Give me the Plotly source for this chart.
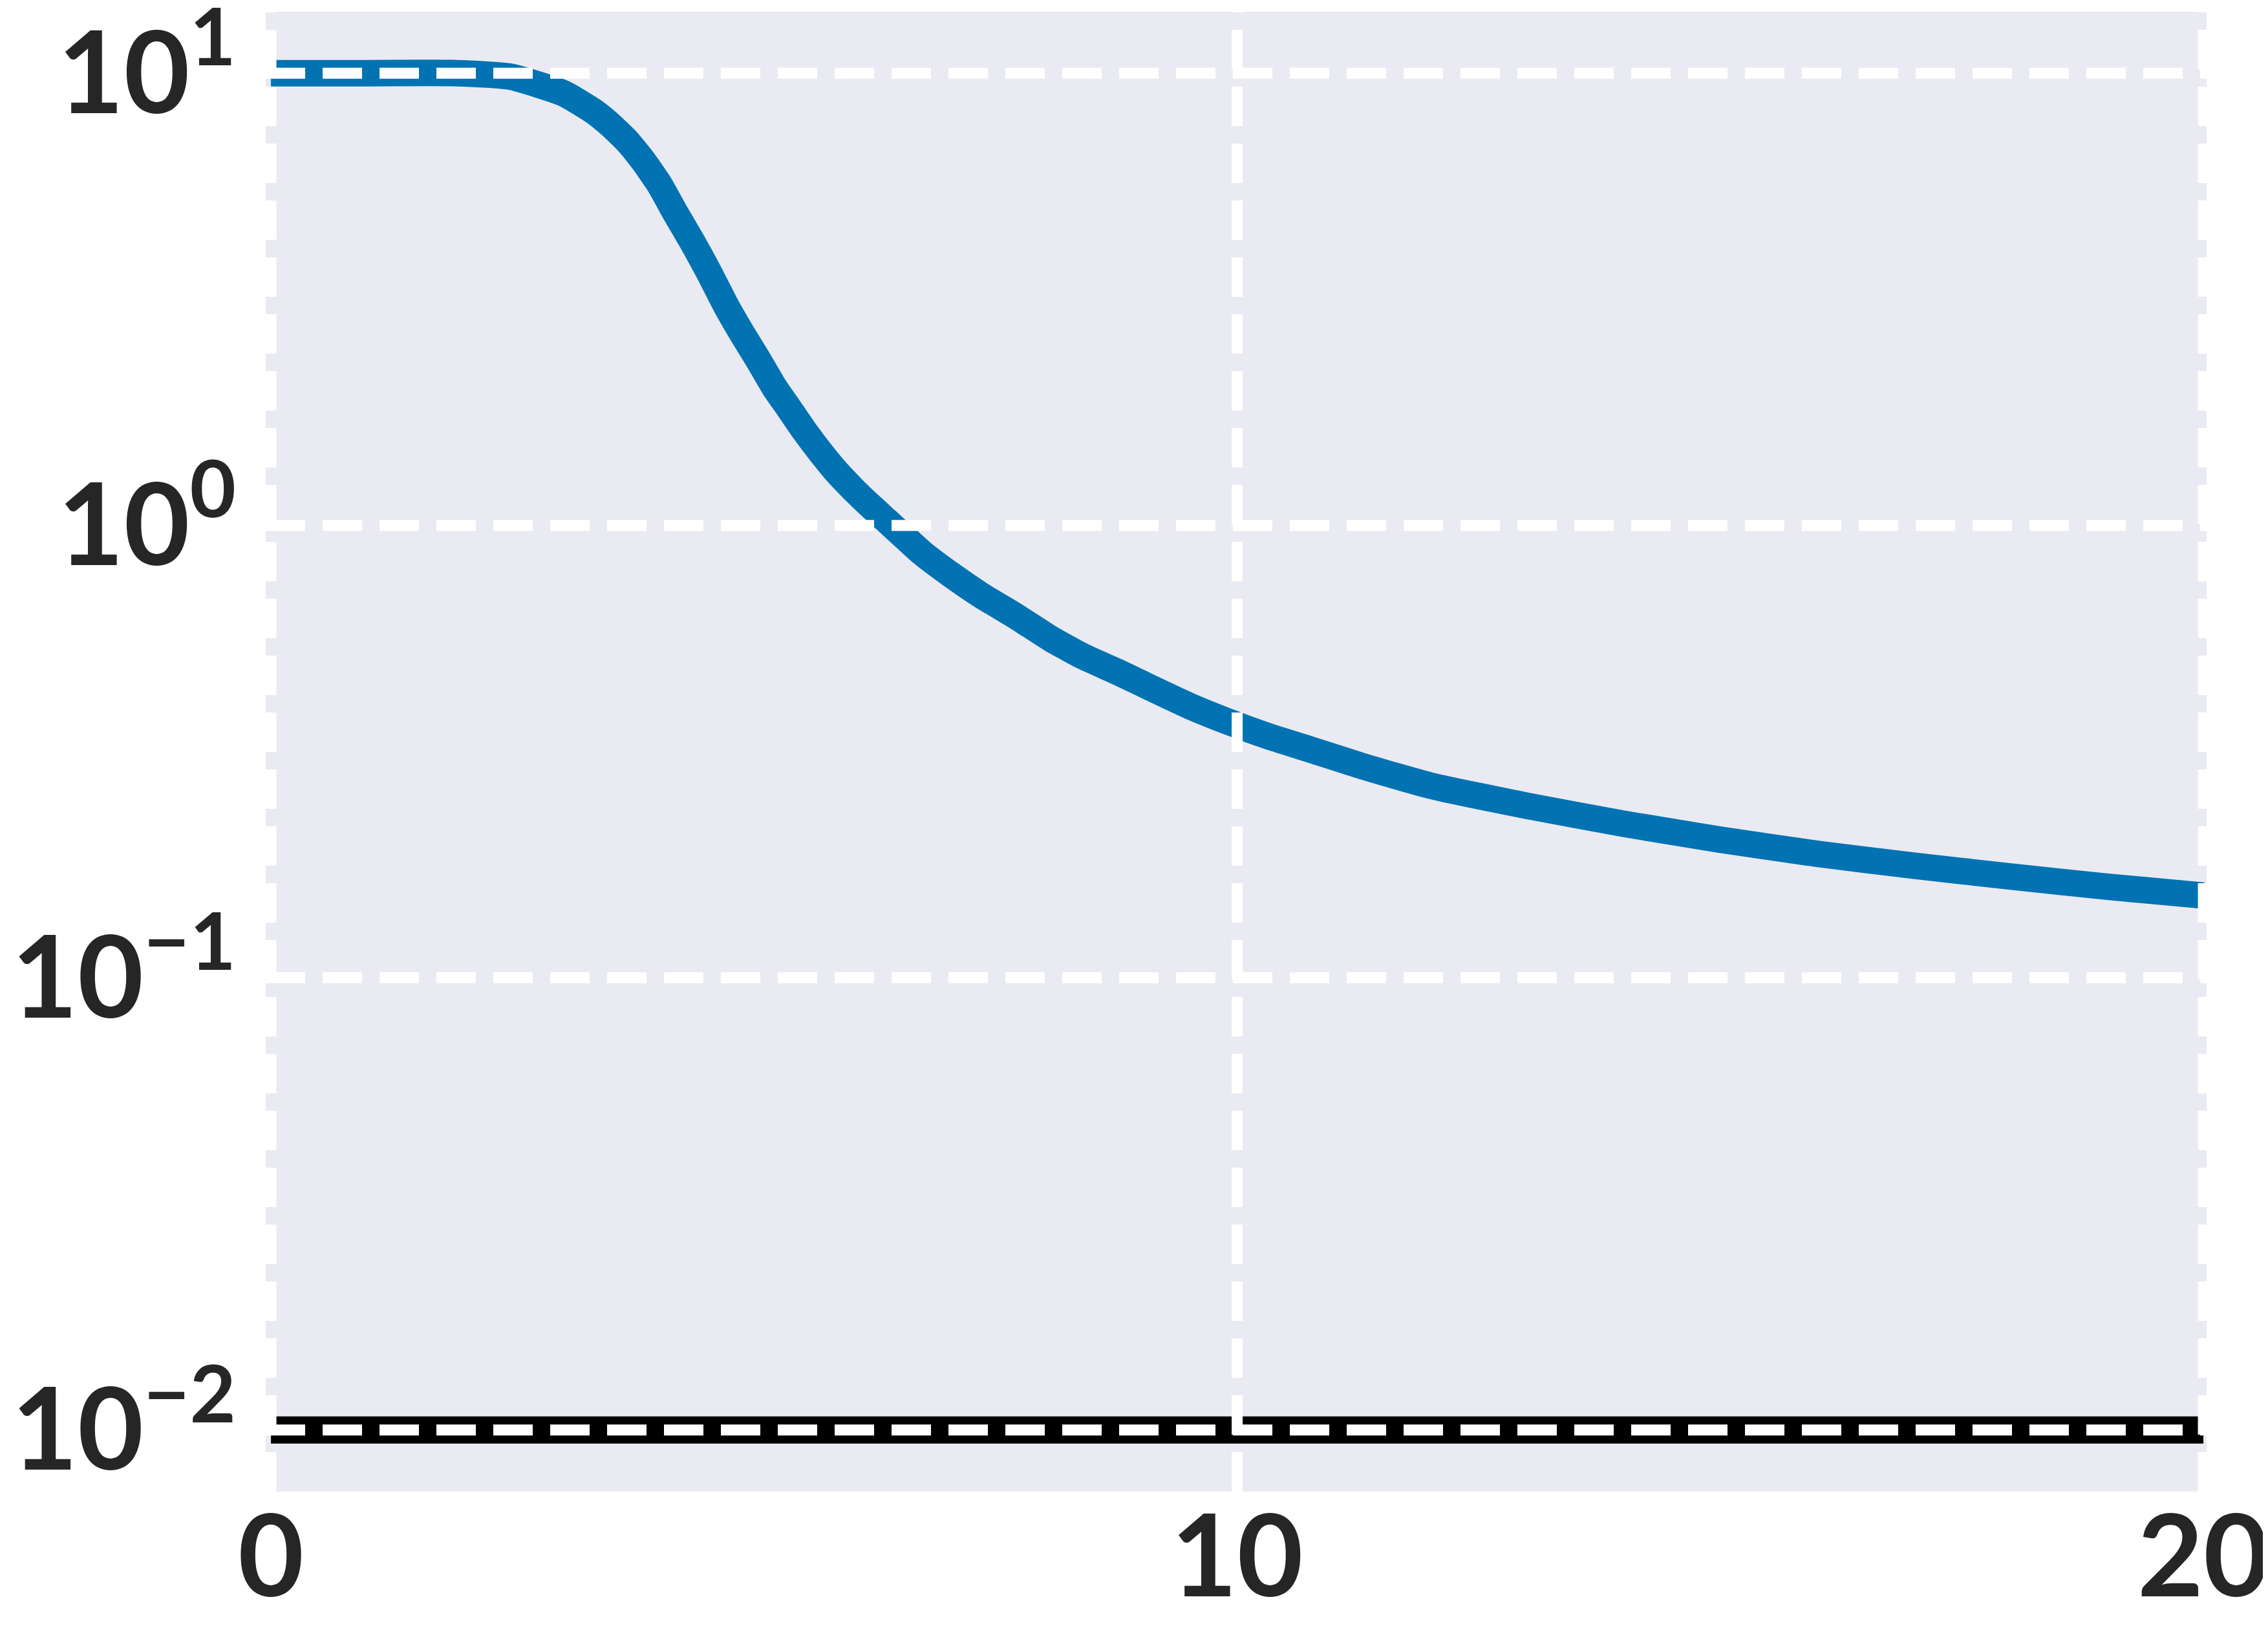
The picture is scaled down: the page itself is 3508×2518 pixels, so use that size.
"""
Log-scale decay curve against a flat reference level, seaborn-like styling.
"""
import plotly.graph_objects as go

# --------------------------------------------------------------------------
# Data
# --------------------------------------------------------------------------

# blue curve
STEP = [
    0.0, 1.0, 1.93, 2.48, 3.03, 3.33, 3.50, 3.68, 3.85, 4.02,
    4.19, 4.36, 4.53, 4.70, 4.87, 5.04, 5.21, 5.35, 5.52, 5.69,
    5.86, 6.03, 6.20, 6.37, 6.55, 6.735, 7.04, 7.35, 7.73, 8.07,
    8.41, 8.785, 9.16, 9.54, 9.91, 10.32, 10.73, 11.31, 12.0, 13.0,
    14.0, 15.0, 16.0, 17.0, 18.0, 19.0, 20.0,
]
VALUE = [
    10.0, 10.0, 10.0, 9.82, 9.02, 8.26, 7.73, 7.10, 6.41, 5.68,
    4.89, 4.24, 3.64, 3.09, 2.67, 2.33, 2.02, 1.83, 1.62, 1.45,
    1.31, 1.20, 1.107, 1.026, 0.946, 0.871, 0.778, 0.701, 0.626, 0.562,
    0.513, 0.472, 0.432, 0.396, 0.368, 0.342, 0.321, 0.293, 0.266, 0.240,
    0.219, 0.202, 0.188, 0.177, 0.1675, 0.159, 0.152,
]

# flat black reference level
REF_STEP = [0, 20]
REF_VALUE = [0.01, 0.01]

X_TICKS = [0, 10, 20]
X_TICK_TEXT = ["0", "10", "20"]
Y_TICKS = [0.01, 0.1, 1, 10]
Y_TICK_TEXT = ["10<sup>−2</sup>", "10<sup>−1</sup>", "10<sup>0</sup>", "10<sup>1</sup>"]

# axis ranges (y in log10 units)
X_RANGE = [-0.054, 20.033]
Y_RANGE = [-2.136, 1.136]

# --------------------------------------------------------------------------
# Styling
# --------------------------------------------------------------------------
CURVE_COLOR = "#0173B2"
BG_COLOR = "#EAEAF2"
TEXT_COLOR = "#262626"
GRID = dict(color="white", width=17, dash="61px,27px")

fig = go.Figure()

fig.add_trace(go.Scatter(x=STEP, y=VALUE, mode="lines",
                         line=dict(color=CURVE_COLOR, width=41,
                                   shape="spline", smoothing=0.5)))
fig.add_trace(go.Scatter(x=REF_STEP, y=REF_VALUE, mode="lines",
                         line=dict(color="black", width=42)))

# grid drawn as traces so it sits on top of the data, like the reference
y_lo, y_hi = 10 ** Y_RANGE[0], 10 ** Y_RANGE[1]
for t in X_TICKS:
    fig.add_trace(go.Scatter(x=[t, t], y=[y_lo, y_hi], mode="lines",
                             line=GRID, hoverinfo="skip"))
for t in Y_TICKS:
    fig.add_trace(go.Scatter(x=X_RANGE, y=[t, t], mode="lines",
                             line=GRID, hoverinfo="skip"))

tick_font = dict(family="Lato", size=176, color=TEXT_COLOR, weight="bold")

fig.update_layout(
    width=3508,
    height=2518,
    margin=dict(l=403, r=103, t=10, b=219, pad=0),
    plot_bgcolor=BG_COLOR,
    paper_bgcolor="white",
    showlegend=False,
    xaxis=dict(range=X_RANGE, tickvals=X_TICKS, ticktext=X_TICK_TEXT,
               showgrid=False, zeroline=False, showline=False, ticks="",
               tickfont=tick_font, ticklabelstandoff=-15,
               automargin=False, ticklabeloverflow="allow"),
    yaxis=dict(type="log", range=Y_RANGE, tickvals=Y_TICKS, ticktext=Y_TICK_TEXT,
               showgrid=False, zeroline=False, showline=False, ticks="",
               tickfont=tick_font, ticklabelstandoff=45,
               automargin=False, ticklabeloverflow="allow"),
)

fig.write_html("out.html")
